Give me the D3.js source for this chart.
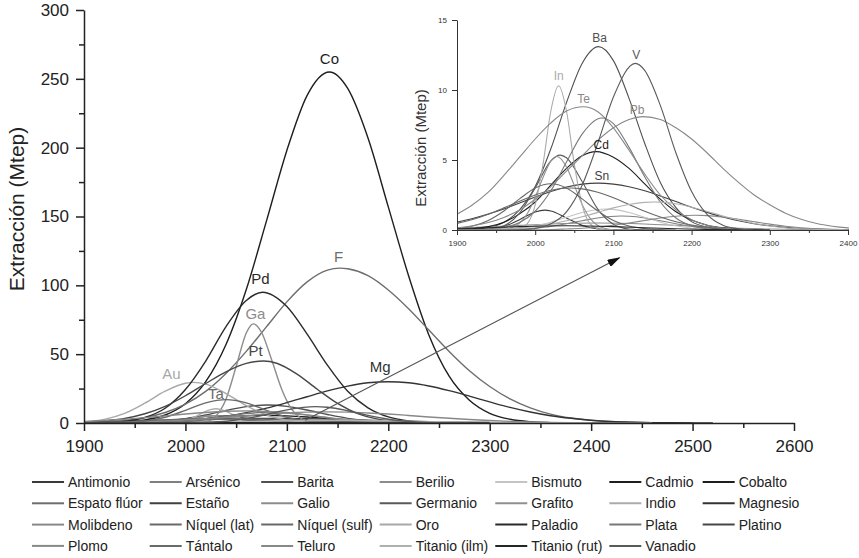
<!DOCTYPE html>
<html>
<head>
<meta charset="utf-8">
<script src="https://cdn.jsdelivr.net/npm/d3@7"></script>
<style>
body{margin:0;background:#fff;}
text{font-family:"Liberation Sans",Arial,sans-serif;}
</style>
</head>
<body>
<script>
// series: [year, Mtep]
var antimonio = [[1900,0],[1920,0.01],[1940,0.05],[1960,0.25],[1980,0.74],[2000,1.29],[2012,1.42],[2020,1.36],[2040,0.86],[2060,0.33],[2080,0.08],[2100,0.01],[2120,0]];
var arsenico = [[1900,0],[1940,0.01],[1960,0.02],[1980,0.06],[2000,0.14],[2020,0.26],[2040,0.45],[2060,0.66],[2080,0.86],[2110,1.0],[2120,0.98],[2140,0.86],[2160,0.66],[2180,0.45],[2200,0.26],[2220,0.14],[2240,0.06],[2260,0.02],[2280,0]];
var barita = [[1900,0],[1920,0.05],[1940,0.17],[1960,0.55],[1980,1.44],[2000,3.1],[2020,5.8],[2040,9.1],[2060,11.9],[2081,13.1],[2100,12.1],[2120,9.4],[2140,6.2],[2160,3.4],[2180,1.6],[2200,0.6],[2220,0.2],[2240,0.05],[2260,0]];
var berilio = [[1900,0.13],[1940,0.22],[1980,0.33],[2020,0.43],[2080,0.5],[2140,0.43],[2180,0.33],[2220,0.22],[2260,0.13],[2300,0.07],[2340,0.03],[2400,0.01],[2440,0]];
var bismuto = [[1900,0],[1940,0.02],[1960,0.05],[1980,0.13],[2000,0.3],[2020,0.56],[2040,0.91],[2060,1.25],[2090,1.5],[2100,1.47],[2120,1.25],[2140,0.91],[2160,0.56],[2180,0.3],[2200,0.13],[2220,0.05],[2240,0.02],[2260,0]];
var cadmio = [[1900,0.03],[1920,0.09],[1940,0.24],[1960,0.55],[1980,1.15],[2000,2.0],[2020,3.2],[2040,4.4],[2060,5.3],[2078,5.6],[2100,5.2],[2120,4.4],[2140,3.3],[2160,2.2],[2180,1.3],[2200,0.71],[2220,0.34],[2240,0.15],[2260,0.05],[2280,0]];
var cobalto = [[1900,0.1],[1920,0.2],[1940,0.7],[1960,2.2],[1980,5.8],[2000,14],[2020,30],[2040,57],[2060,97],[2080,147],[2100,198],[2120,238],[2142,255],[2160,243],[2180,207],[2200,157],[2220,107],[2240,64],[2260,34],[2280,16.5],[2300,7],[2320,2.7],[2340,0.9],[2360,0.3],[2380,0.1],[2400,0]];
var espato = [[1900,0.3],[1920,0.8],[1940,1.9],[1960,3.9],[1980,7.6],[2000,13.7],[2020,23],[2040,36],[2060,52],[2080,70],[2100,88],[2120,102.5],[2140,111],[2152,112.5],[2160,112],[2180,107],[2200,96.6],[2220,83],[2240,67.5],[2260,52],[2280,38],[2300,26.5],[2320,17.5],[2340,11],[2360,6.4],[2380,3.6],[2400,1.9],[2420,1.0],[2440,0.5],[2460,0.2],[2480,0.1],[2500,0]];
var estano = [[1900,0.56],[1920,0.82],[1940,1.14],[1960,1.5],[1980,1.93],[2000,2.35],[2020,2.75],[2040,3.07],[2060,3.28],[2080,3.35],[2100,3.28],[2120,3.09],[2140,2.8],[2160,2.43],[2180,2.03],[2200,1.63],[2220,1.26],[2240,0.93],[2260,0.66],[2280,0.45],[2300,0.3],[2320,0.19],[2340,0.11],[2360,0.07],[2380,0.04],[2400,0.02],[2420,0]];
var galio = [[1900,0],[2000,0],[2020,1.0],[2030,5.0],[2040,17.3],[2050,41],[2060,65.4],[2067,72],[2075,65.9],[2085,45.9],[2095,24.4],[2105,9.7],[2115,2.9],[2125,0.7],[2140,0]];
var germanio = [[1900,0],[1920,0],[1940,0.05],[1960,0.3],[1980,1.2],[2000,3.0],[2020,4.94],[2032,5.35],[2040,5.16],[2060,3.47],[2080,1.49],[2100,0.41],[2120,0.07],[2140,0.01],[2160,0]];
var grafito = [[1900,0],[1940,0],[1960,0.04],[1980,0.49],[1990,1.18],[2000,2.34],[2010,3.75],[2020,4.92],[2028,5.25],[2040,4.5],[2050,3.19],[2060,1.83],[2070,0.85],[2080,0.32],[2100,0.02],[2120,0]];
var indio = [[1900,0],[1960,0],[1970,0.01],[1980,0.08],[1990,0.45],[2000,1.8],[2010,4.7],[2020,8.5],[2030,10.3],[2040,8.5],[2050,4.7],[2060,1.8],[2070,0.45],[2080,0.08],[2090,0.01],[2100,0]];
var magnesio = [[1900,0.05],[1920,0.1],[1940,0.25],[1960,0.5],[1980,1.0],[2000,1.8],[2020,3.0],[2040,4.9],[2060,7.5],[2080,10.8],[2100,14.8],[2120,19.1],[2140,23.3],[2160,26.8],[2180,29.2],[2200,30],[2220,29.2],[2240,26.9],[2260,23.5],[2280,19.5],[2300,15.3],[2320,11.3],[2340,8.0],[2360,5.3],[2380,3.4],[2400,2.0],[2420,1.1],[2440,0.6],[2460,0.3],[2480,0.15],[2500,0.1],[2520,0]];
var molibdeno = [[1900,0],[1980,0.01],[2000,0.01],[2020,0.03],[2040,0.07],[2060,0.12],[2080,0.21],[2100,0.34],[2120,0.5],[2140,0.68],[2160,0.86],[2180,0.98],[2205,1.05],[2220,1.03],[2240,0.93],[2260,0.77],[2280,0.59],[2300,0.42],[2320,0.27],[2340,0.16],[2360,0.09],[2380,0.05],[2400,0.02],[2420,0]];
var niquelLat = [[1900,0.47],[1920,0.75],[1940,1.13],[1960,1.58],[1980,2.06],[2000,2.5],[2020,2.84],[2045,3.0],[2060,2.94],[2080,2.69],[2100,2.3],[2120,1.82],[2140,1.34],[2160,0.93],[2180,0.59],[2200,0.35],[2220,0.2],[2240,0.1],[2260,0.05],[2280,0.02],[2300,0]];
var niquelSulf = [[1900,0.1],[1920,0.28],[1940,0.68],[1960,1.36],[1980,2.22],[2000,3.0],[2020,3.3],[2040,3.0],[2060,2.22],[2080,1.36],[2100,0.68],[2120,0.28],[2140,0.1],[2160,0.03],[2180,0]];
var oro = [[1900,0.8],[1920,2.6],[1940,7.0],[1960,14.4],[1980,23.1],[2000,28.9],[2008,29.5],[2020,28.2],[2040,21.4],[2060,12.7],[2080,5.8],[2100,2.1],[2120,0.6],[2140,0.1],[2160,0]];
var paladio = [[1900,0.1],[1920,0.3],[1940,1.2],[1960,4],[1980,10.7],[2000,24.3],[2020,45],[2040,70],[2060,89],[2076,95],[2100,84.6],[2120,64.5],[2140,42],[2160,23],[2180,11],[2200,4.4],[2220,1.5],[2240,0.4],[2260,0.1],[2280,0]];
var plata = [[1900,0],[1920,0.01],[1940,0.04],[1960,0.17],[1980,0.53],[2000,1.34],[2020,2.8],[2040,4.85],[2060,6.85],[2085,8.0],[2100,7.6],[2120,5.9],[2140,3.8],[2160,2.0],[2180,0.86],[2200,0.3],[2220,0.09],[2240,0.02],[2260,0]];
var platino = [[1900,0.6],[1920,1.5],[1940,3.3],[1960,6.7],[1980,12.1],[2000,19.8],[2020,28.7],[2040,37.2],[2060,43.3],[2077,45],[2090,43.4],[2110,35.5],[2130,24.5],[2150,14.2],[2170,6.8],[2190,2.8],[2210,1.0],[2230,0.3],[2250,0.1],[2270,0]];
var plomo = [[1900,0.16],[1920,0.3],[1940,0.54],[1960,0.9],[1980,1.43],[2000,2.2],[2020,3.1],[2040,4.2],[2060,5.3],[2080,6.4],[2100,7.3],[2120,7.9],[2138,8.1],[2160,7.9],[2180,7.3],[2200,6.5],[2220,5.5],[2240,4.4],[2260,3.4],[2280,2.5],[2300,1.8],[2320,1.2],[2340,0.77],[2360,0.46],[2380,0.27],[2400,0.15],[2420,0.08],[2440,0.04],[2460,0]];
var tantalo = [[1900,0],[1920,0.1],[1940,0.4],[1960,1.4],[1980,4.2],[2000,9.2],[2020,14.6],[2040,17],[2060,14.6],[2080,9.2],[2100,4.2],[2120,1.4],[2140,0.4],[2160,0.1],[2180,0]];
var teluro = [[1900,1.13],[1920,1.8],[1940,2.7],[1960,3.9],[1980,5.2],[2000,6.5],[2020,7.65],[2040,8.5],[2062,8.8],[2080,8.45],[2100,7.3],[2120,5.7],[2140,4.0],[2160,2.5],[2180,1.45],[2200,0.73],[2220,0.34],[2240,0.14],[2260,0.05],[2280,0]];
var titanioIlm = [[1900,0.01],[1920,0.02],[1940,0.04],[1960,0.08],[1980,0.15],[2000,0.26],[2020,0.42],[2040,0.66],[2060,0.94],[2080,1.26],[2100,1.58],[2120,1.82],[2140,1.97],[2152,2.0],[2160,1.99],[2180,1.87],[2200,1.63],[2220,1.32],[2240,1.0],[2260,0.71],[2280,0.47],[2300,0.29],[2320,0.16],[2340,0.09],[2360,0.04],[2380,0.02],[2400,0]];
var titanioRut = [[1900,0.09],[1940,0.16],[1980,0.24],[2040,0.3],[2100,0.24],[2140,0.16],[2180,0.09],[2220,0.04],[2260,0.015],[2300,0]];
var vanadio = [[1900,0],[1960,0],[1980,0.02],[2000,0.11],[2020,0.44],[2040,1.3],[2060,3.2],[2080,6.2],[2100,9.5],[2128,11.9],[2140,11.4],[2160,8.9],[2180,5.5],[2200,2.75],[2220,1.1],[2240,0.34],[2260,0.09],[2280,0]];

var seriesNames = ["Antimonio","Arsénico","Barita","Berilio","Bismuto","Cadmio","Cobalto",
  "Espato flúor","Estaño","Galio","Germanio","Grafito","Indio","Magnesio",
  "Molibdeno","Níquel (lat)","Níquel (sulf)","Oro","Paladio","Plata","Platino",
  "Plomo","Tántalo","Teluro","Titanio (ilm)","Titanio (rut)","Vanadio"];
var seriesSymbols = ["","","Ba","","","Cd","Co","F","Sn","Ga","","","In","Mg","","","","Au","Pd","","Pt","Pb","Ta","Te","","","V"];
var seriesValues = [antimonio,arsenico,barita,berilio,bismuto,cadmio,cobalto,espato,estano,galio,germanio,grafito,indio,magnesio,
  molibdeno,niquelLat,niquelSulf,oro,paladio,plata,platino,plomo,tantalo,teluro,titanioIlm,titanioRut,vanadio];
var seriesColors = ["#3a3a3a","#808080","#505050","#8c8c8c","#c4c4c4","#1e1e1e","#1e1e1e",
  "#6e6e6e","#404040","#8c8c8c","#5a5a5a","#909090","#ababab","#333333",
  "#888888","#686868","#686868","#a8a8a8","#2a2a2a","#787878","#474747",
  "#888888","#6a6a6a","#888888","#b0b0b0","#262626","#5a5a5a"];

var xTicks = [1900,2000,2100,2200,2300,2400,2500,2600];
var xMinor = [1950,2050,2150,2250,2350,2450,2550];
var yTicks = [0,50,100,150,200,250,300];
var yMinor = [25,75,125,175,225,275];
var insetXTicks = [1900,2000,2100,2200,2300,2400];
var insetXMinor = [1950,2050,2150,2250,2350];
var insetYTicks = [0,5,10,15];
var yTitle = "Extracción (Mtep)";
var arrowFrom = [2118,2], arrowTo = [2428,120];

// label offsets from each peak, px
var labelShift = {Co:[0,-13],F:[-1,-11],Pd:[-2,-13],Ga:[2,-10],Pt:[-8,-10],Mg:[-8,-15],Au:[-22,-9],Ta:[-10,-6],
  Ba:[1,-9],V:[1,-9],In:[0,-10],Te:[0,-8],Pb:[-6,-7],Cd:[5,-7],Sn:[4,-7]};

var svg = d3.select("body").append("svg").attr("width",859).attr("height",558);

var defs = svg.append("defs");
defs.append("clipPath").attr("id","insetClip").append("rect")
    .attr("x",457).attr("y",0).attr("width",392).attr("height",231);
defs.append("marker").attr("id","head")
    .attr("markerUnits","userSpaceOnUse").attr("markerWidth",13).attr("markerHeight",8)
    .attr("refX",12).attr("refY",4).attr("orient","auto")
  .append("path").attr("d","M0,0L13,4L0,8Z").attr("fill","#111");

function peakOf(d){ return d3.greatest(d,function(p){return p[1];}); }

// ---------- main chart
var x = d3.scaleLinear().domain([1900,2600]).range([84,794]);
var y = d3.scaleLinear().domain([0,300]).range([423,10]);

var line = d3.line().x(function(d){return x(d[0]);}).y(function(d){return y(d[1]);}).curve(d3.curveMonotoneX);

svg.append("g").selectAll("path")
    .data(seriesValues)
    .enter().append("path")
        .attr("d",line)
        .attr("fill","none")
        .attr("stroke",function(d,i){return seriesColors[i];})
        .attr("stroke-width",1.4);

function styleAxis(g,size){
  g.selectAll("path,line").attr("stroke","#222").attr("stroke-width",1.5);
  g.selectAll("text").attr("font-family","Liberation Sans, Arial, sans-serif").attr("font-size",size).attr("fill","#222");
}

svg.append("g").attr("transform","translate(0,423)")
    .call(d3.axisBottom(x).tickValues(xMinor).tickSize(5).tickSizeOuter(0).tickFormat(""))
    .call(function(g){g.select(".domain").remove(); styleAxis(g,17);});
svg.append("g").attr("transform","translate(84,0)")
    .call(d3.axisLeft(y).tickValues(yMinor).tickSize(5).tickSizeOuter(0).tickFormat(""))
    .call(function(g){g.select(".domain").remove(); styleAxis(g,17);});
svg.append("g").attr("transform","translate(0,423)")
    .call(d3.axisBottom(x).tickValues(xTicks).tickSize(8).tickSizeOuter(0).tickPadding(9).tickFormat(d3.format("d")))
    .call(function(g){styleAxis(g,17);});
svg.append("g").attr("transform","translate(84,0)")
    .call(d3.axisLeft(y).tickValues(yTicks).tickSize(8).tickSizeOuter(0).tickPadding(7))
    .call(function(g){styleAxis(g,17);});

svg.append("text")
    .attr("transform","translate(24,209) rotate(-90)")
    .attr("text-anchor","middle")
    .attr("font-size",21).attr("fill","#222")
    .text(yTitle);

// peak labels, main
seriesValues.forEach(function(d,i){
  var s = seriesSymbols[i];
  if(!s || d3.max(d,function(p){return p[1];}) < 15) return;
  var pk = peakOf(d), sh = labelShift[s];
  svg.append("text")
      .attr("x",x(pk[0])+sh[0]).attr("y",y(pk[1])+sh[1])
      .attr("dy","0.35em").attr("text-anchor","middle")
      .attr("font-size",15).attr("fill",seriesColors[i])
      .text(s);
});

// arrow
svg.append("line")
    .attr("x1",x(arrowFrom[0])).attr("y1",y(arrowFrom[1]))
    .attr("x2",x(arrowTo[0])).attr("y2",y(arrowTo[1]))
    .attr("stroke","#555").attr("stroke-width",1.2)
    .attr("marker-end","url(#head)");

// ---------- inset
var xi = d3.scaleLinear().domain([1900,2400]).range([457,848]);
var yi = d3.scaleLinear().domain([0,15]).range([230,20]);
var lineI = d3.line().x(function(d){return xi(d[0]);}).y(function(d){return yi(d[1]);}).curve(d3.curveMonotoneX);

var small = [];
seriesValues.forEach(function(d,i){ if(d3.max(d,function(p){return p[1];}) < 15) small.push(i); });

svg.append("g").attr("clip-path","url(#insetClip)").selectAll("path")
    .data(small)
    .enter().append("path")
        .attr("d",function(i){return lineI(seriesValues[i]);})
        .attr("fill","none")
        .attr("stroke",function(i){return seriesColors[i];})
        .attr("stroke-width",1.1);

function styleInset(g){
  g.selectAll("path,line").attr("stroke","#333").attr("stroke-width",1);
  g.selectAll("text").attr("font-family","Liberation Sans, Arial, sans-serif").attr("font-size",8).attr("fill","#333");
}
svg.append("g").attr("transform","translate(0,230)")
    .call(d3.axisBottom(xi).tickValues(insetXMinor).tickSize(3).tickSizeOuter(0).tickFormat(""))
    .call(function(g){g.select(".domain").remove(); styleInset(g);});
svg.append("g").attr("transform","translate(0,230)")
    .call(d3.axisBottom(xi).tickValues(insetXTicks).tickSize(5).tickSizeOuter(0).tickPadding(5).tickFormat(d3.format("d")))
    .call(styleInset);
svg.append("g").attr("transform","translate(457,0)")
    .call(d3.axisLeft(yi).tickValues(insetYTicks).tickSize(5).tickSizeOuter(0).tickPadding(5))
    .call(styleInset);

svg.append("text")
    .attr("transform","translate(426,148) rotate(-90)")
    .attr("text-anchor","middle")
    .attr("font-size",15).attr("fill","#333")
    .text(yTitle);

small.forEach(function(i){
  var s = seriesSymbols[i];
  if(!s) return;
  var pk = peakOf(seriesValues[i]), sh = labelShift[s];
  svg.append("text")
      .attr("x",xi(pk[0])+sh[0]).attr("y",yi(pk[1])+sh[1])
      .attr("dy","0.35em").attr("text-anchor","middle")
      .attr("font-size",12).attr("fill",seriesColors[i])
      .text(s);
});

// ---------- legend
var items = svg.append("g").selectAll("g")
    .data(seriesNames)
    .enter().append("g");
items.append("text")
    .attr("x",36).attr("dy","0.35em")
    .attr("font-size",14).attr("fill","#222")
    .text(function(d){return d;});
var colW = [];
items.select("text").each(function(d,i){
  var c = i % 7;
  colW[c] = Math.max(colW[c] || 0, this.getComputedTextLength());
});
var colX = [], cx = 32;
for (var c = 0; c < 7; c++){ colX[c] = cx; cx += 36 + colW[c] + 7; }
items.attr("transform",function(d,i){return "translate("+colX[i%7]+","+(482+Math.floor(i/7)*21.3)+")";});
items.append("line")
    .attr("x1",0).attr("x2",32)
    .attr("stroke",function(d,i){return seriesColors[i];})
    .attr("stroke-width",2);
</script>
</body>
</html>
